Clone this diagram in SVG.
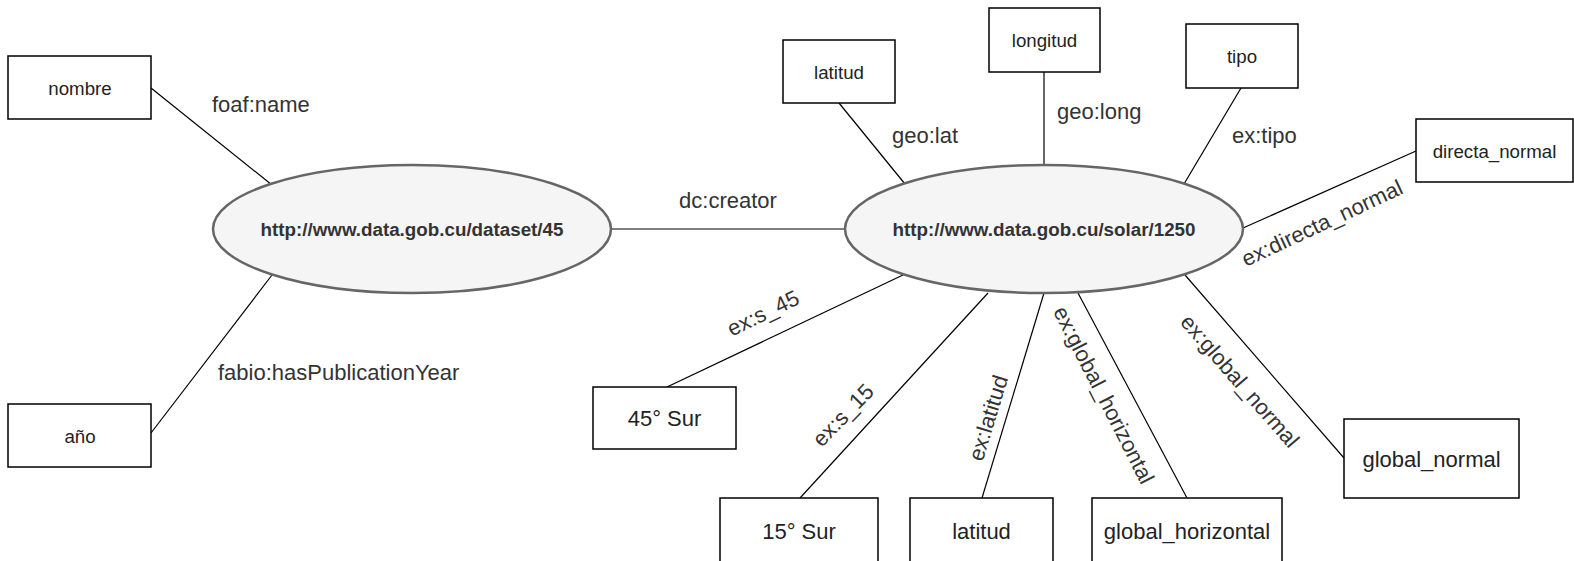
<svg xmlns="http://www.w3.org/2000/svg" width="1574" height="561" viewBox="0 0 1574 561">
<style>
.box{fill:#fff;stroke:#000;stroke-width:1.5}
.ell{fill:#f5f5f5;stroke:#666;stroke-width:2.5}
.t{font-family:"Liberation Sans",Arial,sans-serif;fill:#222;text-anchor:middle}
.s{font-size:18.7px}
.b{font-size:22px}
.e{font-family:"Liberation Sans",Arial,sans-serif;font-size:18.8px;font-weight:bold;fill:#333;text-anchor:middle}
.lbl{font-family:"Liberation Sans",Arial,sans-serif;font-size:22px;fill:#333}
.c{text-anchor:middle}
#connectors line{stroke:#000;stroke-width:1.2}
</style>
<rect width="1574" height="561" fill="#fff"/>
<g id="connectors">
<line x1="151" y1="88" x2="272" y2="185"/>
<line x1="151" y1="433" x2="272" y2="275"/>
<line x1="611" y1="229" x2="845" y2="229"/>
<line x1="839" y1="103" x2="905" y2="184"/>
<line x1="1044" y1="72" x2="1044" y2="165"/>
<line x1="1241" y1="88" x2="1184" y2="184"/>
<line x1="1243" y1="228" x2="1416" y2="151"/>
<line x1="1185" y1="275" x2="1344" y2="458"/>
<line x1="1078" y1="293" x2="1187" y2="498"/>
<line x1="1044" y1="293" x2="982" y2="498"/>
<line x1="988" y1="293" x2="800" y2="498"/>
<line x1="903" y1="275" x2="667" y2="387"/>
<text class="lbl" x="212" y="112">foaf:name</text>
<text class="lbl" x="218" y="380">fabio:hasPublicationYear</text>
<text class="lbl c" x="728" y="208">dc:creator</text>
<text class="lbl" x="892" y="143">geo:lat</text>
<text class="lbl" x="1057" y="119">geo:long</text>
<text class="lbl" x="1232" y="143">ex:tipo</text>
<text class="lbl c" transform="translate(1322,223) rotate(-25)" dy="0.35em">ex:directa_normal</text>
<text class="lbl c" transform="translate(763,313) rotate(-26)" dy="0.35em">ex:s_45</text>
<text class="lbl c" transform="translate(843,415) rotate(-46)" dy="0.35em">ex:s_15</text>
<text class="lbl c" transform="translate(988,418) rotate(-73)" dy="0.35em">ex:latitud</text>
<text class="lbl c" transform="translate(1104,395) rotate(63)" dy="0.35em">ex:global_horizontal</text>
<text class="lbl c" transform="translate(1240,381) rotate(49)" dy="0.35em">ex:global_normal</text>
</g>
<g id="dataset">
<ellipse class="ell" cx="412" cy="229" rx="199" ry="64"/>
<text class="e" x="412" y="229" dy="0.35em">http://www.data.gob.cu/dataset/45</text>
</g>
<g id="solar">
<ellipse class="ell" cx="1044" cy="229" rx="199" ry="64"/>
<text class="e" x="1044" y="229" dy="0.35em">http://www.data.gob.cu/solar/1250</text>
</g>
<g id="nombre"><rect class="box" x="8" y="56" width="143" height="63"/><text class="t s" x="80" y="88" dy="0.35em">nombre</text></g>
<g id="anio"><rect class="box" x="8" y="404" width="143" height="63"/><text class="t s" x="80" y="436" dy="0.35em">año</text></g>
<g id="latitud-top"><rect class="box" x="783" y="40" width="112" height="63"/><text class="t s" x="839" y="72" dy="0.35em">latitud</text></g>
<g id="longitud"><rect class="box" x="989" y="8" width="111" height="64"/><text class="t s" x="1044.5" y="40" dy="0.35em">longitud</text></g>
<g id="tipo"><rect class="box" x="1186" y="24" width="112" height="64"/><text class="t s" x="1242" y="56" dy="0.35em">tipo</text></g>
<g id="directa_normal"><rect class="box" x="1416" y="119" width="157" height="63"/><text class="t s" x="1494.5" y="151" dy="0.35em">directa_normal</text></g>
<g id="s45"><rect class="box" x="593" y="387" width="143" height="62"/><text class="t b" x="664.5" y="418" dy="0.35em">45° Sur</text></g>
<g id="s15"><rect class="box" x="720" y="498" width="158" height="70"/><text class="t b" x="799" y="531" dy="0.35em">15° Sur</text></g>
<g id="latitud-bottom"><rect class="box" x="910" y="498" width="143" height="70"/><text class="t b" x="981.5" y="531" dy="0.35em">latitud</text></g>
<g id="global_horizontal"><rect class="box" x="1092" y="498" width="190" height="70"/><text class="t b" x="1187" y="531" dy="0.35em">global_horizontal</text></g>
<g id="global_normal"><rect class="box" x="1344" y="419" width="175" height="79"/><text class="t b" x="1431.5" y="459" dy="0.35em">global_normal</text></g>
</svg>
